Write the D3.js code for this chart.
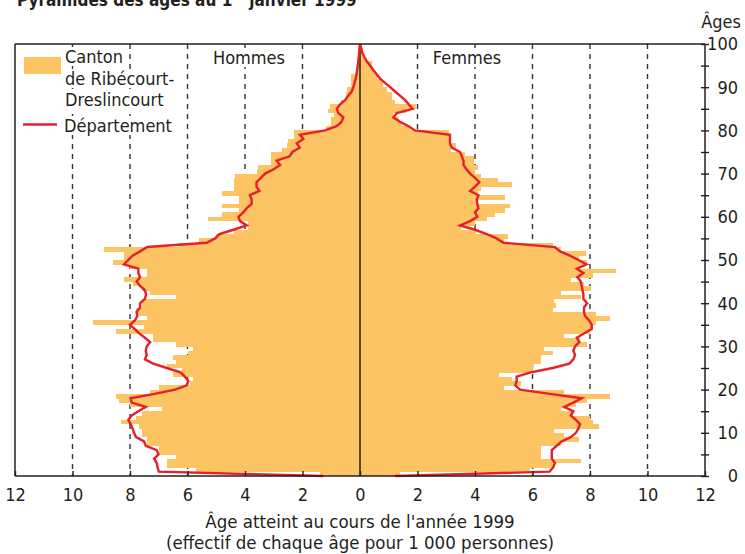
<!DOCTYPE html>
<html><head><meta charset="utf-8">
<script src="https://cdn.jsdelivr.net/npm/d3@7"></script>
<style>
body{margin:0;background:#fff;}
svg{display:block;}
text{font-family:"Liberation Sans Narrow","DejaVu Sans Condensed","Roboto",sans-serif;fill:#231f20;}
</style></head><body>
<svg id="c" width="745" height="554"></svg>
<script>
// ---- data (effectif pour 1 000 personnes, âges 0..99 / 0..100) ----
const cantonMen = [1.4,5.7,6.7,6.7,6.4,7.0,7.0,7.4,7.4,7.6,
 7.6,7.7,8.3,7.8,7.6,6.9,8.0,8.4,8.5,7.3,
 7.0,5.9,5.8,6.5,6.2,6.7,6.4,6.5,6.0,5.8,
 6.4,7.2,7.2,8.5,7.5,9.3,7.4,7.8,7.8,7.6,
 7.6,6.4,7.3,7.6,7.9,8.2,7.4,7.4,8.0,8.6,
 8.2,8.2,8.9,6.3,5.6,5.0,4.4,3.9,3.9,5.3,
 4.8,4.2,4.8,4.2,4.2,4.8,4.4,4.4,4.4,4.35,
 3.6,3.55,3.1,3.1,3.1,2.7,2.55,2.5,2.3,2.3,
 1.2,1.0,1.0,0.9,1.1,1.05,0.65,0.5,0.5,0.45,
 0.3,0.3,0.3,0.15,0.12,0.12,0.1,0.05,0.05,0.0];
const cantonWomen = [1.4,5.9,6.7,7.7,6.3,6.3,6.3,7.0,7.6,7.1,
 6.75,8.3,8.1,8.0,7.4,7.0,7.5,7.9,8.7,7.1,
 5.0,5.6,5.3,4.85,6.0,6.0,6.3,6.3,6.7,6.4,
 7.9,7.65,7.1,8.0,8.05,8.2,8.7,8.2,6.7,6.8,
 6.75,7.7,7.0,8.05,7.8,7.35,8.1,8.9,7.65,7.9,
 7.6,7.85,7.0,6.7,5.0,5.15,4.05,3.5,4.0,4.4,
 4.7,5.05,5.2,4.05,5.05,4.1,4.2,5.3,4.8,4.2,
 4.0,4.1,3.95,3.95,3.65,3.15,3.35,3.15,3.1,3.1,
 1.75,1.45,1.35,1.15,1.6,1.95,1.2,1.1,1.1,0.95,
 0.8,0.8,0.6,0.5,0.4,0.4,0.17,0.1,0.1,0.05];
const deptMen = [1.28,7.0,7.04,7.07,7.16,7.01,7.07,7.45,7.51,7.79,
 7.86,7.91,7.98,8.06,7.94,7.71,7.45,7.94,7.98,7.15,
 6.43,6.03,5.97,6.09,6.24,6.72,7.19,7.48,7.42,7.45,
 7.42,7.3,7.48,7.68,7.83,8.0,7.83,7.75,7.77,7.65,
 7.65,7.48,7.44,7.48,7.65,7.77,7.65,7.71,7.71,8.21,
 8.06,7.91,7.65,7.40,5.33,5.04,4.89,4.40,3.94,4.17,
 4.23,4.06,3.94,3.77,3.77,3.83,3.5,3.6,3.6,3.45,
 3.3,3.0,2.78,2.9,2.45,2.35,2.1,2.2,1.97,2.09,
 1.22,0.81,0.64,0.58,0.75,0.81,0.7,0.52,0.41,0.29,
 0.23,0.19,0.15,0.12,0.1,0.08,0.06,0.04,0.03,0.02,0];
const deptWomen = [1.22,6.59,6.72,6.78,6.67,6.67,6.67,6.84,7.01,7.33,
 7.51,7.6,7.65,7.51,7.33,7.42,7.1,7.42,7.71,6.6,
 5.57,5.4,5.45,5.45,5.94,6.7,7.28,7.42,7.48,7.42,
 7.48,7.63,7.54,7.79,8.06,8.06,7.97,7.83,7.79,7.79,
 7.9,7.77,7.77,7.74,7.71,7.68,7.56,7.77,7.54,7.88,
 7.6,7.3,6.96,6.78,4.99,4.75,4.41,4.0,3.48,3.83,
 4.08,4.0,4.12,4.08,4.06,4.12,3.83,4.0,4.15,4.0,
 3.83,3.7,3.6,3.6,3.54,3.48,3.19,3.13,3.13,3.13,
 1.91,1.68,1.39,1.16,1.28,1.83,1.7,1.57,1.4,1.22,
 1.05,0.87,0.7,0.58,0.46,0.35,0.23,0.15,0.08,0.04,0];
const xTickValues = [-12,-10,-8,-6,-4,-2,0,2,4,6,8,10,12];
const gridValues = [-10,-8,-6,-4,-2,2,4,6,8,10];
const yTickValues = [0,10,20,30,40,50,60,70,80,90,100];
const yMinorTicks = d3.range(0,101,5);

const svg = d3.select("#c");
const x = d3.scaleLinear().domain([-12,12]).range([15,705]);
const y = d3.scaleLinear().domain([0,100]).range([476,44]);
const ORANGE = "#fdc463", RED = "#e5202a", INK = "#231f20";

// gridlines
svg.append("g").selectAll("line").data(gridValues).join("line")
  .attr("x1",d=>x(d)).attr("x2",d=>x(d)).attr("y1",y(100)).attr("y2",y(0))
  .attr("stroke","#333").attr("stroke-width",1.4).attr("stroke-dasharray","5,5");

// bars
const bars = svg.append("g").attr("shape-rendering","crispEdges");
bars.selectAll("rect.m").data(cantonMen).join("rect").attr("class","m")
  .attr("x",d=>x(-d)).attr("width",d=>x(0)-x(-d))
  .attr("y",(d,i)=>y(i+1)).attr("height",(d,i)=>y(i)-y(i+1)+0.3)
  .attr("fill",ORANGE);
bars.selectAll("rect.f").data(cantonWomen).join("rect").attr("class","f")
  .attr("x",x(0)).attr("width",d=>x(d)-x(0))
  .attr("y",(d,i)=>y(i+1)).attr("height",(d,i)=>y(i)-y(i+1)+0.3)
  .attr("fill",ORANGE);

// center line
svg.append("line").attr("x1",x(0)).attr("x2",x(0)).attr("y1",y(100)).attr("y2",y(0))
  .attr("stroke",INK).attr("stroke-width",1.5);

// department lines
const lineM = d3.line().x(d=>x(-d)).y((d,i)=>y(i));
const lineF = d3.line().x(d=>x(d)).y((d,i)=>y(i));
svg.append("path").attr("d",lineM(deptMen)).attr("fill","none").attr("stroke",RED).attr("stroke-width",2.4).attr("stroke-linejoin","miter");
svg.append("path").attr("d",lineF(deptWomen)).attr("fill","none").attr("stroke",RED).attr("stroke-width",2.4).attr("stroke-linejoin","miter");

// frame
const fr = svg.append("g").attr("stroke",INK).attr("stroke-width",1.5);
fr.append("line").attr("x1",x(-12)).attr("x2",x(12)).attr("y1",y(100)).attr("y2",y(100));
fr.append("line").attr("x1",x(-12)).attr("x2",x(12)).attr("y1",y(0)).attr("y2",y(0));
fr.append("line").attr("x1",x(-12)).attr("x2",x(-12)).attr("y1",y(100)).attr("y2",y(0));
fr.append("line").attr("x1",x(12)).attr("x2",x(12)).attr("y1",y(100)).attr("y2",y(0));

// bottom axis
const xAxis = d3.axisBottom(x).tickValues(xTickValues).tickFormat(d=>Math.abs(d)).tickSizeInner(-5).tickSizeOuter(0).tickPadding(12);
const gx = svg.append("g").attr("transform",`translate(0,${y(0)})`).call(xAxis);
gx.select(".domain").remove();
gx.selectAll("line").attr("stroke",INK).attr("stroke-width",1.4);
gx.selectAll("text").attr("font-size",18).attr("fill",INK)
  .style("font-family",'"Liberation Sans Narrow","DejaVu Sans Condensed",sans-serif');

// right axis
const yAxis = d3.axisRight(y).tickValues(yMinorTicks).tickFormat("").tickSizeInner(4).tickSizeOuter(0);
const gy = svg.append("g").attr("transform",`translate(${x(12)},0)`).call(yAxis);
gy.select(".domain").remove();
gy.selectAll("line").attr("x1",-4).attr("stroke",INK).attr("stroke-width",1.4);
svg.append("g").selectAll("text").data(yTickValues).join("text")
  .attr("x",738).attr("y",d=>y(d)).attr("dy","0.36em").attr("text-anchor","end")
  .attr("font-size",18).text(d=>d);
svg.append("text").attr("x",741).attr("y",28).attr("text-anchor","end").attr("font-size",18).text("Âges");

// title (cut at top as in the original)
const t = svg.append("text").attr("x",17).attr("y",6).attr("font-size",17).attr("font-weight","bold");
t.append("tspan").text("Pyramides des âges au 1");
t.append("tspan").attr("font-size",11).attr("dy",-6).text("er");
t.append("tspan").attr("dy",6).text(" janvier 1999");

// axis title
svg.append("text").attr("x",360).attr("y",528).attr("text-anchor","middle").attr("font-size",18.5).text("Âge atteint au cours de l'année 1999");
svg.append("text").attr("x",360).attr("y",549).attr("text-anchor","middle").attr("font-size",18.5).text("(effectif de chaque âge pour 1 000 personnes)");

// labels with white background
function label(xp, yp, txt, anchor){
  const g = svg.append("g");
  const r = g.append("rect").attr("fill","#fff");
  const tx = g.append("text").attr("x",xp).attr("y",yp).attr("font-size",18).attr("text-anchor",anchor||"start").text(txt);
  const b = tx.node().getBBox();
  r.attr("x",b.x-2).attr("y",b.y+1).attr("width",b.width+4).attr("height",b.height-2);
}
label(249,64,"Hommes","middle");
label(467,64,"Femmes","middle");

// legend
const lg = svg.append("g");
lg.append("rect").attr("x",20).attr("y",52).attr("width",42).attr("height",26).attr("fill","#fff");
lg.append("rect").attr("x",24).attr("y",57).attr("width",37).attr("height",17).attr("fill",ORANGE);
label(65,63,"Canton");
label(65,85,"de Ribécourt-");
label(65,106,"Dreslincourt");
lg.append("rect").attr("x",20).attr("y",118).attr("width",42).attr("height",13).attr("fill","#fff");
lg.append("line").attr("x1",23).attr("x2",57).attr("y1",124.5).attr("y2",124.5).attr("stroke",RED).attr("stroke-width",2.4);
label(64,132,"Département");
svg.node().appendChild(lg.node());
</script>
</body></html>
